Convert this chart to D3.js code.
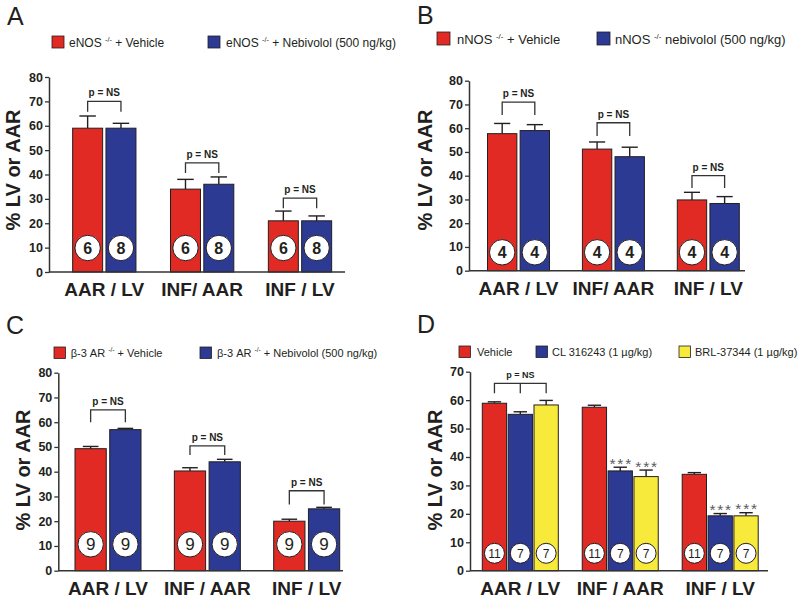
<!DOCTYPE html>
<html><head><meta charset="utf-8">
<script src="https://cdn.jsdelivr.net/npm/d3@7"></script>
<style>
body{margin:0;background:#fff}
svg{display:block;font-family:"Liberation Sans",Arial,Helvetica,sans-serif}
</style>
</head><body>
<svg id="chart" width="800" height="598"></svg>
<script>
// ---------------- DATA ----------------
const categoriesA = ["AAR / LV", "INF/ AAR", "INF / LV"];
const categoriesB = ["AAR / LV", "INF/ AAR", "INF / LV"];
const categoriesC = ["AAR / LV", "INF / AAR", "INF / LV"];
const categoriesD = ["AAR / LV", "INF / AAR", "INF / LV"];
const yTicks80 = [0, 10, 20, 30, 40, 50, 60, 70, 80];
const yTicks70 = [0, 10, 20, 30, 40, 50, 60, 70];

// Panel A (eNOS -/-)
const vehicleA = [59, 34, 21];
const vehicleSemA = [5, 4, 4];
const nebivololA = [59, 36, 21];
const nebivololSemA = [2, 3, 2];
const nA = [6, 8];
const bracketTopA = [70, 44.8, 30.3];
const bracketLegA = [65.7, 40.6, 26.2];

// Panel B (nNOS -/-)
const vehicleB = [57.7, 51.2, 29.8];
const vehicleSemB = [4.3, 3.0, 3.2];
const nebivololB = [59, 48, 28.3];
const nebivololSemB = [2.5, 4.0, 2.9];
const nB = [4, 4];
const bracketTopB = [71, 62.3, 40];
const bracketLegB = [65.6, 56.7, 34.8];

// Panel C (beta-3 AR -/-)
const vehicleC = [49.3, 40.3, 20];
const vehicleSemC = [0.9, 1.3, 0.8];
const nebivololC = [57, 44, 25];
const nebivololSemC = [0.5, 1.0, 0.6];
const nC = [9, 9];
const bracketTopC = [65, 50.4, 32.3];
const bracketLegC = [60, 46.7, 26.7];

// Panel D (agonists)
const vehicleD = [58.9, 57.5, 33.9];
const vehicleSemD = [0.5, 0.7, 0.6];
const clD = [55, 35.1, 19.3];
const clSemD = [0.9, 1.3, 0.8];
const brlD = [58.3, 33.1, 19.3];
const brlSemD = [1.6, 2.3, 1.1];
const nD = [11, 7, 7];
const starsD = [["", "", ""], ["", "***", "***"], ["", "***", "***"]]; // [category][series]
const bracketTopD = [65.9];
const bracketLegD = [62.4];

const legendA = [["eNOS ", "-/-", " + Vehicle"], ["eNOS ", "-/-", " + Nebivolol (500 ng/kg)"]];
const legendB = [["nNOS ", "-/-", " + Vehicle"], ["nNOS ", "-/-", " nebivolol (500 ng/kg)"]];
const legendC = [["β-3 AR ", "-/-", " + Vehicle"], ["β-3 AR ", "-/-", " + Nebivolol (500 ng/kg)"]];
const legendD = [["Vehicle", "", ""], ["CL 316243 (1 µg/kg)", "", ""], ["BRL-37344 (1 µg/kg)", "", ""]];

// ---------------- STYLE ----------------
const RED = "#e12a23", BLUE = "#2c3a94", YELLOW = "#f7ea3b";
const INK = "#231f20";

const svg = d3.select("#chart");

function drawPanel(cfg) {
  const g = svg.append("g");
  const y = d3.scaleLinear().domain([0, cfg.yMax]).range([cfg.y0, cfg.yTop]);
  const x = d3.scalePoint().domain(cfg.categories).range(cfg.centers);
  const nS = cfg.series.length;
  const inner = d3.scaleBand().domain(d3.range(nS)).range([-cfg.w / 2, cfg.w / 2]).paddingInner(cfg.pad);
  const bw = inner.bandwidth();
  const cx = (ci, si) => x(cfg.categories[ci]) + inner(si) + bw / 2;

  // panel letter
  g.append("text").attr("x", cfg.letter[0]).attr("y", cfg.letter[1])
    .attr("font-size", 25).attr("fill", INK).text(cfg.letterText);

  // legend
  cfg.legend.forEach((parts, i) => {
    const lx = cfg.legendX[i];
    g.append("rect").attr("x", lx).attr("y", cfg.legendY).attr("width", cfg.legendSq).attr("height", cfg.legendSq)
      .attr("fill", cfg.series[i].color).attr("stroke", INK).attr("stroke-width", 0.8);
    const t = g.append("text").attr("x", cfg.legendTextX[i]).attr("y", cfg.legendBase)
      .attr("font-size", cfg.legendFont).attr("fill", INK);
    t.append("tspan").text(parts[0]);
    if (parts[1]) {
      t.append("tspan").attr("font-size", cfg.legendFont * 0.6).attr("dy", -cfg.legendFont * 0.4).text(parts[1]);
      t.append("tspan").attr("dy", cfg.legendFont * 0.4).text(parts[2]);
    } else if (parts[2]) {
      t.append("tspan").text(parts[2]);
    }
  });

  // bars
  cfg.series.forEach((s, si) => {
    cfg.categories.forEach((c, ci) => {
      const v = s.values[ci], e = s.sem[ci];
      const bx = x(c) + inner(si);
      const capW = bw * cfg.capFrac;
      const xc = bx + bw / 2;
      // error bar (upper)
      g.append("line").attr("x1", xc).attr("x2", xc).attr("y1", y(v)).attr("y2", y(v + e))
        .attr("stroke", INK).attr("stroke-width", 1.4);
      g.append("line").attr("x1", xc - capW / 2).attr("x2", xc + capW / 2).attr("y1", y(v + e)).attr("y2", y(v + e))
        .attr("stroke", INK).attr("stroke-width", 1.4);
      g.append("rect").attr("x", bx).attr("y", y(v)).attr("width", bw).attr("height", y(0) - y(v))
        .attr("fill", s.color).attr("stroke", INK).attr("stroke-width", 1);
      // n circle
      const cy = cfg.y0 - cfg.circOffset;
      g.append("circle").attr("cx", xc).attr("cy", cy).attr("r", cfg.circR)
        .attr("fill", "#fff").attr("stroke", INK).attr("stroke-width", 1);
      g.append("text").attr("x", xc).attr("y", cy).attr("dy", "0.36em")
        .attr("text-anchor", "middle").attr("font-size", cfg.circFont)
        .attr("font-weight", cfg.circBold ? "bold" : "normal").attr("fill", INK)
        .text(cfg.n[si]);
      // stars
      if (cfg.stars && cfg.stars[ci][si]) {
        g.append("text").attr("x", xc + 1).attr("y", y(v + e) + 1.5).attr("text-anchor", "middle")
          .attr("font-size", 15.5).attr("letter-spacing", 1.8).attr("fill", "#5a5a5a").text(cfg.stars[ci][si]);
      }
    });
  });

  // brackets
  cfg.brackets.forEach(b => {
    const x1 = cx(b.cat, b.from), x2 = cx(b.cat, b.to);
    const yt = y(b.top), yl = y(b.leg);
    g.append("path").attr("d", `M${x1},${yl}V${yt}H${x2}V${yl}`)
      .attr("fill", "none").attr("stroke", "#333").attr("stroke-width", 1.3);
    if (b.mid !== undefined) {
      const xm = cx(b.cat, b.mid);
      g.append("line").attr("x1", xm).attr("x2", xm).attr("y1", yt).attr("y2", yl)
        .attr("stroke", "#333").attr("stroke-width", 1.3);
    }
    g.append("text").attr("x", (x1 + x2) / 2).attr("y", yt - 5).attr("text-anchor", "middle")
      .attr("font-size", cfg.pFont).attr("font-weight", "bold").attr("fill", INK).text("p = NS");
  });

  // y axis
  const ax = g.append("g").attr("transform", `translate(${cfg.ax},0)`)
    .call(d3.axisLeft(y).tickValues(cfg.ticks).tickSize(4).tickSizeOuter(0).tickPadding(2).tickFormat(d3.format("d")));
  ax.select(".domain").attr("stroke", "#333").attr("stroke-width", 1.5);
  ax.selectAll(".tick line").attr("stroke", "#333").attr("stroke-width", 1.3);
  ax.selectAll(".tick text").attr("font-size", 12.5).attr("font-weight", "bold").attr("fill", INK)
    .attr("font-family", "'Liberation Sans',Arial,sans-serif");

  // x axis line
  g.append("line").attr("x1", cfg.ax).attr("x2", cfg.xEnd).attr("y1", cfg.y0).attr("y2", cfg.y0)
    .attr("stroke", "#333").attr("stroke-width", 1.5);

  // x labels
  cfg.categories.forEach(c => {
    g.append("text").attr("x", x(c)).attr("y", cfg.xLabelBase).attr("text-anchor", "middle")
      .attr("font-size", cfg.xLabelFont).attr("font-weight", "bold").attr("fill", INK).text(c);
  });

  // y title
  g.append("text").attr("transform", `translate(${cfg.yTitle[0]},${cfg.yTitle[1]}) rotate(-90)`)
    .attr("text-anchor", "middle").attr("dy", "0.36em")
    .attr("font-size", 20).attr("font-weight", "bold").attr("fill", INK).text("% LV or AAR");
}

const br2 = (tops, legs) => tops.map((t, i) => ({cat: i, from: 0, to: 1, top: t, leg: legs[i]}));

drawPanel({
  letterText: "A", letter: [7, 25],
  categories: categoriesA, yMax: 80, ticks: yTicks80,
  series: [{values: vehicleA, sem: vehicleSemA, color: RED}, {values: nebivololA, sem: nebivololSemA, color: BLUE}],
  n: nA, brackets: br2(bracketTopA, bracketLegA),
  legend: legendA, legendX: [52, 208], legendTextX: [69, 226], legendY: 36, legendSq: 12, legendBase: 46.5, legendFont: 12,
  ax: 49, y0: 272, yTop: 77, xEnd: 345, centers: [104.3, 300], w: 63.3, pad: 0.1, capFrac: 0.55,
  circOffset: 24, circR: 12.7, circFont: 16, circBold: true, pFont: 10,
  xLabelBase: 296, xLabelFont: 19, yTitle: [13, 170]
});

drawPanel({
  letterText: "B", letter: [417, 24],
  categories: categoriesB, yMax: 80, ticks: yTicks80,
  series: [{values: vehicleB, sem: vehicleSemB, color: RED}, {values: nebivololB, sem: nebivololSemB, color: BLUE}],
  n: nB, brackets: br2(bracketTopB, bracketLegB),
  legend: legendB, legendX: [437, 597], legendTextX: [457, 615], legendY: 32, legendSq: 13, legendBase: 44, legendFont: 13,
  ax: 469, y0: 270.7, yTop: 80.7, xEnd: 745, centers: [518.5, 708.3], w: 62, pad: 0.1, capFrac: 0.55,
  circOffset: 18.4, circR: 12.7, circFont: 16, circBold: true, pFont: 10,
  xLabelBase: 295, xLabelFont: 19, yTitle: [425, 170]
});

drawPanel({
  letterText: "C", letter: [6, 334],
  categories: categoriesC, yMax: 80, ticks: yTicks80,
  series: [{values: vehicleC, sem: vehicleSemC, color: RED}, {values: nebivololC, sem: nebivololSemC, color: BLUE}],
  n: nC, brackets: br2(bracketTopC, bracketLegC),
  legend: legendC, legendX: [54, 200], legendTextX: [70.7, 217], legendY: 347, legendSq: 11.5, legendBase: 356.7, legendFont: 11,
  ax: 58.3, y0: 570.7, yTop: 372.7, xEnd: 343, centers: [108, 306.7], w: 66, pad: 0.1, capFrac: 0.5,
  circOffset: 26.4, circR: 12.7, circFont: 17, circBold: false, pFont: 10,
  xLabelBase: 594.5, xLabelFont: 19, yTitle: [23, 470]
});

drawPanel({
  letterText: "D", letter: [417, 333],
  categories: categoriesD, yMax: 70, ticks: yTicks70,
  series: [{values: vehicleD, sem: vehicleSemD, color: RED}, {values: clD, sem: clSemD, color: BLUE}, {values: brlD, sem: brlSemD, color: YELLOW}],
  n: nD, stars: starsD,
  brackets: [{cat: 0, from: 0, to: 2, mid: 1, top: bracketTopD[0], leg: bracketLegD[0]}],
  legend: legendD, legendX: [459, 536, 679], legendTextX: [477, 552, 695], legendY: 346, legendSq: 11.5, legendBase: 355.5, legendFont: 11,
  ax: 470, y0: 570.7, yTop: 371.7, xEnd: 768, centers: [520.3, 720.2], w: 76, pad: 0.06, capFrac: 0.55,
  circOffset: 17.4, circR: 10, circFont: 12, circBold: false, pFont: 9,
  xLabelBase: 594.5, xLabelFont: 19, yTitle: [435, 470]
});
</script>
</body></html>
